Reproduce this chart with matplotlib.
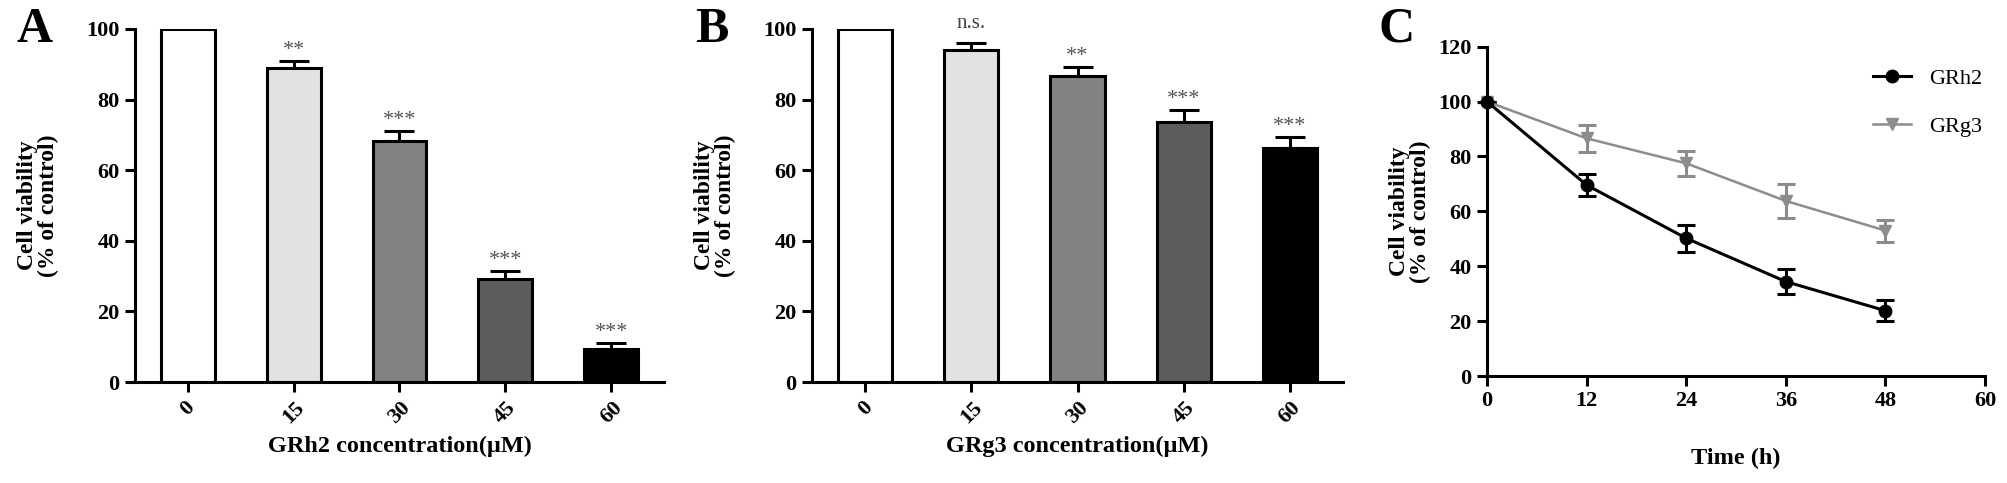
from __future__ import annotations

import matplotlib

matplotlib.use("Agg")

import matplotlib.pyplot as plt
from matplotlib.lines import Line2D


CONCENTRATIONS = ["0", "15", "30", "45", "60"]
BAR_COLORS = ["#ffffff", "#e2e2e2", "#828282", "#5c5c5c", "#000000"]

GRH2_VIABILITY = [100, 89, 68.4, 29.1, 9.3]
GRH2_ERR = [0, 2.0, 2.7, 2.3, 1.7]
GRH2_SIG = ["", "**", "***", "***", "***"]

GRG3_VIABILITY = [100, 94, 86.7, 73.7, 66.2]
GRG3_ERR = [0, 1.9, 2.6, 3.4, 3.3]
GRG3_SIG = ["", "n.s.", "**", "***", "***"]

TIME_H = [0, 12, 24, 36, 48]
TIME_GRH2 = [100, 69.6, 50.2, 34.4, 23.8]
TIME_GRH2_ERR = [0, 4.1, 5.0, 4.7, 3.9]
TIME_GRG3 = [100, 86.6, 77.5, 63.8, 53.0]
TIME_GRG3_ERR = [0, 4.8, 4.6, 6.3, 4.0]

SERIF = ["Liberation Serif", "DejaVu Serif"]
W, H = 2008, 483

plt.rcParams["font.family"] = SERIF
plt.rcParams["font.weight"] = "bold"
plt.rcParams["axes.linewidth"] = 2.2


def _style_axis(axis):
    axis.spines["top"].set_visible(False)
    axis.spines["right"].set_visible(False)
    axis.tick_params(width=2.2, length=7, labelsize=16, pad=4)
    for label in axis.get_xticklabels() + axis.get_yticklabels():
        label.set_fontweight("bold")


def _bar_panel(fig, rect, values, errors, sig, xlabel, letter, letter_x):
    axis = fig.add_axes(rect)
    pos = list(range(len(values)))
    axis.bar(pos, values, width=0.51, color=BAR_COLORS, edgecolor="black",
             linewidth=2.2, zorder=2)
    axis.errorbar(pos, values, yerr=[[0] * len(errors), errors], fmt="none",
                  ecolor="black", elinewidth=2.2, capsize=11, capthick=2.2,
                  zorder=1)
    for x, v, e, s in zip(pos, values, errors, sig):
        if not s:
            continue
        if s == "n.s.":
            axis.text(x, v + e + 3.0, s, ha="center", va="bottom", fontsize=15,
                      fontweight="normal", color="#444444", clip_on=False)
        else:
            axis.text(x, v + e + 0.3, s, ha="center", va="bottom", fontsize=16,
                      fontweight="normal", color="#555555", clip_on=False)
    axis.set_xlim(-0.5, 4.5)
    axis.set_ylim(0, 100)
    axis.set_yticks(range(0, 101, 20))
    axis.set_xticks(pos)
    axis.set_xticklabels(CONCENTRATIONS, rotation=45, ha="center", va="top")
    _style_axis(axis)
    axis.set_xlabel(xlabel, fontsize=17.5, fontweight="bold", labelpad=6)
    axis.set_ylabel("Cell viability\n(% of control)", fontsize=17,
                    fontweight="bold", linespacing=1.0)
    axis.yaxis.set_label_coords(-76 / (rect[2] * W), 0.5)
    fig.text(letter_x / W, 1 - 30 / H, letter, fontsize=36,
             fontweight="bold", ha="center", va="center")
    return axis


def main() -> None:
    fig = plt.figure(figsize=(W / 100, H / 100), dpi=100)

    _bar_panel(fig, [135 / W, 1 - 382 / H, 529 / W, 353 / H],
               GRH2_VIABILITY, GRH2_ERR, GRH2_SIG,
               "GRh2 concentration(\u03bcM)", "A", 35)
    _bar_panel(fig, [812 / W, 1 - 382 / H, 531 / W, 353 / H],
               GRG3_VIABILITY, GRG3_ERR, GRG3_SIG,
               "GRg3 concentration(\u03bcM)", "B", 712)

    axis = fig.add_axes([1487 / W, 1 - 376 / H, 498 / W, 329.3 / H])
    axis.errorbar(TIME_H, TIME_GRG3, yerr=TIME_GRG3_ERR, color="#8c8c8c",
                  marker="v", markersize=9, linewidth=1.8, elinewidth=2.2,
                  capsize=6.5, capthick=2.2, clip_on=False)
    axis.errorbar(TIME_H, TIME_GRH2, yerr=TIME_GRH2_ERR, color="black",
                  marker="o", markersize=9, linewidth=2.2, elinewidth=2.2,
                  capsize=6.5, capthick=2.2, clip_on=False)
    axis.set_xlim(0, 60)
    axis.set_ylim(0, 120)
    axis.set_xticks(range(0, 61, 12))
    axis.set_yticks(range(0, 121, 20))
    _style_axis(axis)
    axis.set_xlabel("Time (h)", fontsize=17.5, fontweight="bold", labelpad=26)
    axis.set_ylabel("Cell viability\n(% of control)", fontsize=17,
                    fontweight="bold", linespacing=1.0)
    axis.yaxis.set_label_coords(-56 / 498, 0.5)
    handles = [
        Line2D([], [], color="black", marker="o", markersize=9, linewidth=2.2),
        Line2D([], [], color="#8c8c8c", marker="v", markersize=9, linewidth=1.8),
    ]
    axis.legend(handles, ["GRh2", "GRg3"], loc="upper left",
                bbox_to_anchor=(1862 / W, 1 - 57 / H),
                bbox_transform=fig.transFigure, frameon=False,
                prop={"family": SERIF, "size": 16, "weight": "normal"},
                handlelength=1.7, handletextpad=0.8, labelspacing=1.25,
                borderpad=0)
    fig.text(1397 / W, 1 - 30 / H, "C", fontsize=36, fontweight="bold",
             ha="center", va="center")

    fig.savefig("out.png", dpi=100)
    plt.close(fig)


if __name__ == "__main__":
    main()
